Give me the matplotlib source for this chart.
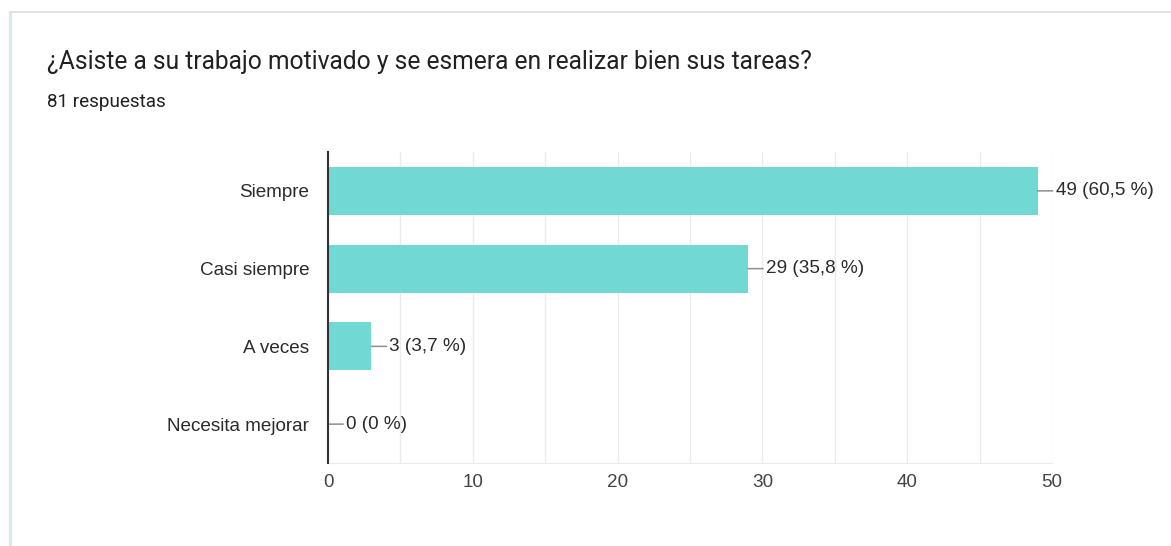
import matplotlib
matplotlib.use("Agg")
import matplotlib.pyplot as plt
from matplotlib.patches import Rectangle
from matplotlib.lines import Line2D

TITLE = "¿Asiste a su trabajo motivado y se esmera en realizar bien sus tareas?"
SUBTITLE = "81 respuestas"
TOTAL = 81

CATEGORIES = ["Siempre", "Casi siempre", "A veces", "Necesita mejorar"]
COUNTS = [49, 29, 3, 0]
X_TICKS = [0, 10, 20, 30, 40, 50]

BAR_COLOR = "#72d8d4"
TEXT_COLOR = "#2b2b2b"
CHART_FONT = ["Liberation Sans", "DejaVu Sans"]
CHART_SIZE = 13.6

plt.rcParams["font.family"] = ["Roboto", "DejaVu Sans"]


def pct_label(n):
    pct = round(n / TOTAL * 100, 1)
    if pct == int(pct):
        s = f"{int(pct)}"
    else:
        s = f"{pct:.1f}".replace(".", ",")
    return f"{n} ({s} %)"


fig = plt.figure(figsize=(11.71, 5.46), dpi=100)
fig.patch.set_facecolor("white")

# card outline: grey top edge, tinted left edge
fig.add_artist(Line2D([10 / 1171, 1], [1 - 11.5 / 546] * 2, color="#dadce0", lw=1.2,
                      transform=fig.transFigure))
fig.add_artist(Rectangle((9 / 1171, 0), 3 / 1171, 1 - 12 / 546, color="#d8e9ec",
                         transform=fig.transFigure, lw=0))

fig.text(47 / 1171, 1 - 62 / 546, TITLE, fontsize=17.7, color="#202124", va="center")
fig.text(47 / 1171, 1 - 102 / 546, SUBTITLE, fontsize=13.6, color="#202124", va="center")

ax = fig.add_axes([328 / 1171, 1 - 463 / 546, 724 / 1171, 311 / 546])
ypos = list(range(len(CATEGORIES)))
ax.barh(ypos, COUNTS, height=0.62, color=BAR_COLOR, zorder=2)

for y, n in zip(ypos, COUNTS):
    ax.annotate(pct_label(n), xy=(n, y), xytext=(18, 0), textcoords="offset pixels",
                ha="left", va="center", fontsize=CHART_SIZE, color=TEXT_COLOR,
                family=CHART_FONT,
                arrowprops=dict(arrowstyle="-", color="#8f8f8f", lw=1.1,
                                shrinkA=0, shrinkB=0),
                annotation_clip=False, zorder=3)

ax.set_xlim(0, 50)
ax.set_ylim(3.5, -0.5)
ax.set_xticks(X_TICKS)
ax.set_xticks(range(0, 51, 5), minor=True)
ax.set_yticks(ypos)
ax.set_yticklabels(CATEGORIES)
for lbl in ax.get_xticklabels() + ax.get_yticklabels():
    lbl.set_family(CHART_FONT)
ax.tick_params(axis="y", length=0, pad=13.5, labelsize=CHART_SIZE, labelcolor=TEXT_COLOR)
ax.tick_params(axis="x", which="both", length=0, pad=8, labelsize=CHART_SIZE,
               labelcolor="#444444")
ax.grid(axis="x", which="both", color="#ebebeb", lw=1, zorder=0)

for side in ("top", "right"):
    ax.spines[side].set_visible(False)
ax.spines["bottom"].set_color("#ebebeb")
ax.spines["left"].set_color("#333333")
ax.spines["left"].set_linewidth(1.5)
ax.spines["left"].set_zorder(4)

fig.savefig("out.png", dpi=100)
